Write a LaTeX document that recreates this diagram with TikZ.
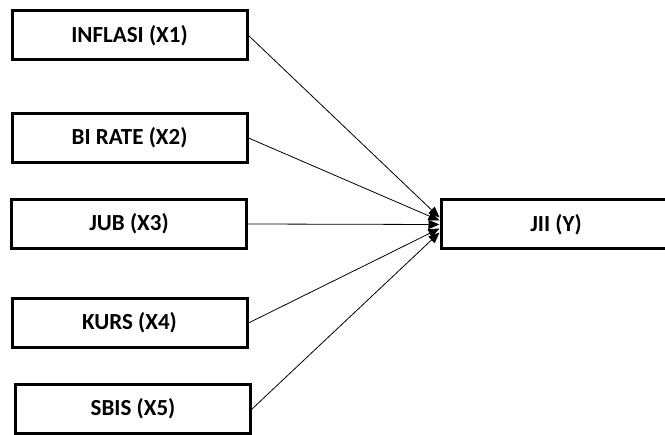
\documentclass[tikz,border=0pt]{standalone}
\usepackage{fontspec}
\setmainfont{Carlito}
\usetikzlibrary{arrows.meta}
\begin{document}
\begin{tikzpicture}[x=1pt, y=-1pt, every node/.style={font=\fontsize{23}{27}\selectfont\bfseries},
  varbox/.style={draw, line width=3pt, minimum width=235pt, minimum height=49pt, inner sep=0pt}]
  \useasboundingbox (0,0) rectangle (665,435);
  % Draw boxes for each variable X
  \foreach \i/\xpos/\ypos/\txt in {1/129.5/35.5/INFLASI (X1), 2/129.5/138/BI RATE (X2), 3/129/224/JUB (X3), 4/129.5/323/KURS (X4), 5/133/409/SBIS (X5)} {
    \node[varbox] (x\i) at (\xpos,\ypos) {\txt};
  }
  % Draw box for Y
  \node[varbox, minimum width=230pt] (y) at (556,224.5) {JII (Y)};
  % Draw arrows into Y
  \foreach \i/\dy in {1/7pt,2/4pt,3/0pt,4/-4pt,5/-8pt} {
    \draw[-{Triangle[length=11pt,width=9pt]}, line width=0.8pt] (x\i.east) -- ([yshift=\dy]y.west);
  }
\end{tikzpicture}
\end{document}
